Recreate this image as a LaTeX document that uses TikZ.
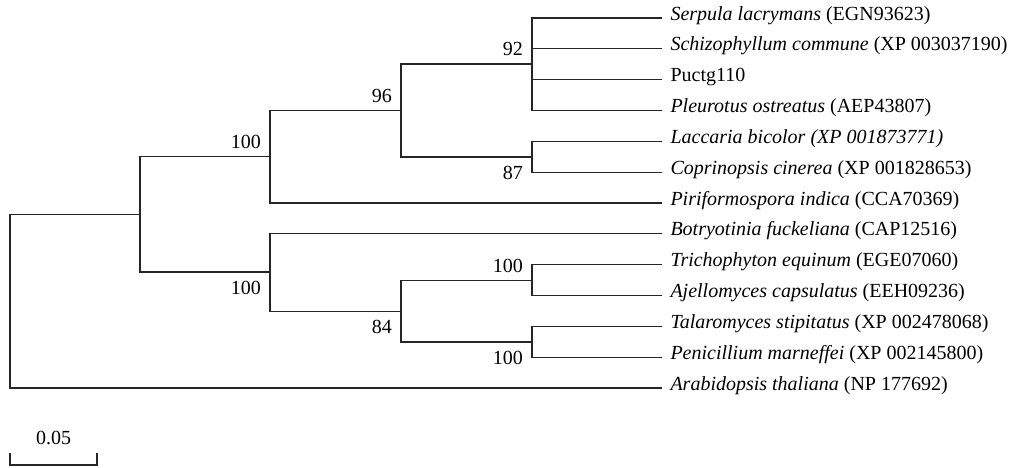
\documentclass[tikz,border=0pt]{standalone}
\usepackage{fontspec}
\setmainfont{Liberation Serif}
\begin{document}
\begin{tikzpicture}[x=1pt,y=-1pt,
  edge/.style={draw=black!85, line width=1.3pt},
  leaf/.style={anchor=west, inner xsep=8.5pt, inner ysep=0pt, outer sep=0pt,
    text height=9.5pt, text depth=5.5pt, font=\fontsize{20}{23}\selectfont},
  bsup/.style={anchor=base east, inner sep=0pt, xshift=-9pt, yshift=8.5pt,
    font=\fontsize{20}{23}\selectfont},
  bsdown/.style={anchor=base east, inner sep=0pt, xshift=-9pt, yshift=-22.5pt,
    font=\fontsize{20}{23}\selectfont}]
\useasboundingbox (0,0) rectangle (1012,467);

% leaves
\node[leaf] (serp) at (662,18)    {\textit{Serpula lacrymans} (EGN93623)};
\node[leaf] (schi) at (662,48.8)  {\textit{Schizophyllum commune} (XP 003037190)};
\node[leaf] (puct) at (662,79.7)  {Puctg110};
\node[leaf] (pleu) at (662,110.5) {\textit{Pleurotus ostreatus} (AEP43807)};
\node[leaf] (lacc) at (662,141.3) {\textit{Laccaria bicolor} \textit{(XP 001873771)}};
\node[leaf] (copr) at (662,172.2) {\textit{Coprinopsis cinerea} (XP 001828653)};
\node[leaf] (piri) at (662,203)   {\textit{Piriformospora indica} (CCA70369)};
\node[leaf] (botr) at (662,233.8) {\textit{Botryotinia fuckeliana} (CAP12516)};
\node[leaf] (tric) at (662,264.7) {\textit{Trichophyton equinum} (EGE07060)};
\node[leaf] (ajel) at (662,295.5) {\textit{Ajellomyces capsulatus} (EEH09236)};
\node[leaf] (tala) at (662,326.3) {\textit{Talaromyces stipitatus} (XP 002478068)};
\node[leaf] (peni) at (662,357.2) {\textit{Penicillium marneffei} (XP 002145800)};
\node[leaf] (arab) at (662,388)   {\textit{Arabidopsis thaliana} (NP 177692)};

% internal nodes
\coordinate (nA) at (532,64);
\coordinate (nB) at (532,157);
\coordinate (nC) at (401,110.5);
\coordinate (nD) at (270,156.75);
\coordinate (nE) at (532,280.5);
\coordinate (nF) at (532,342);
\coordinate (nG) at (401,311.25);
\coordinate (nH) at (270,272);
\coordinate (nI) at (140,214.4);
\coordinate (root) at (10,301);

% edges
\draw[edge] (nA) |- (serp.west);
\draw[edge] (nA) |- (schi.west);
\draw[edge] (nA) |- (puct.west);
\draw[edge] (nA) |- (pleu.west);
\draw[edge] (nB) |- (lacc.west);
\draw[edge] (nB) |- (copr.west);
\draw[edge] (nC) |- (nA);
\draw[edge] (nC) |- (nB);
\draw[edge] (nD) |- (nC);
\draw[edge] (nD) |- (piri.west);
\draw[edge] (nE) |- (tric.west);
\draw[edge] (nE) |- (ajel.west);
\draw[edge] (nF) |- (tala.west);
\draw[edge] (nF) |- (peni.west);
\draw[edge] (nG) |- (nE);
\draw[edge] (nG) |- (nF);
\draw[edge] (nH) |- (botr.west);
\draw[edge] (nH) |- (nG);
\draw[edge] (nI) |- (nD);
\draw[edge] (nI) |- (nH);
\draw[edge] (root) |- (nI);
\draw[edge] (root) |- (arab.west);

% bootstrap values
\node[bsup]   (bA) at (nA) {92};
\node[bsdown] (bB) at (nB) {87};
\node[bsup]   (bC) at (nC) {96};
\node[bsup]   (bD) at (nD) {100};
\node[bsup]   (bE) at (nE) {100};
\node[bsdown] (bF) at (nF) {100};
\node[bsdown] (bG) at (nG) {84};
\node[bsdown] (bH) at (nH) {100};

% scale bar
\coordinate (sbL) at (10,465);
\coordinate (sbR) at (97,465);
\draw[edge] (sbL) ++(0,-12) -- (sbL) -- (sbR) -- ++(0,-12);
\node[anchor=base, inner sep=0pt, font=\fontsize{20}{23}\selectfont] (sbt) at (53.5,444) {0.05};
\end{tikzpicture}
\end{document}
